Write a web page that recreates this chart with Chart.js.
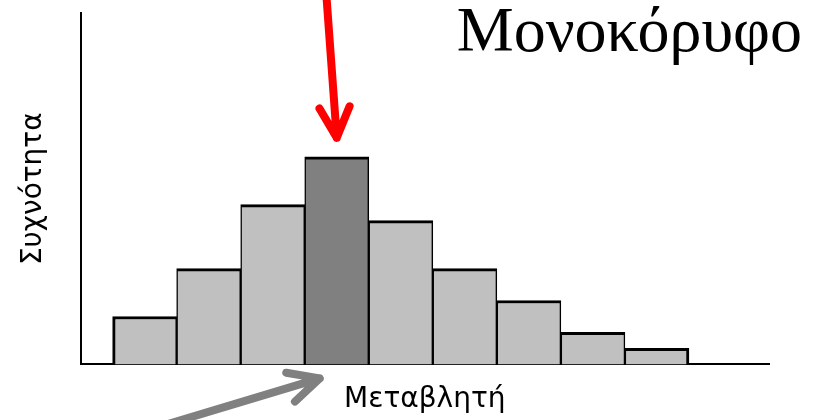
<!DOCTYPE html>
<html>
<head>
<meta charset="utf-8">
<script src="https://cdn.jsdelivr.net/npm/chart.js@4"></script>
<style>
    html, body { margin: 0; padding: 0; background: #fff; }
</style>
</head>
<body>
<canvas id="myChart" width="813" height="420"></canvas>
<script>
// δεδομένα ιστογράμματος
const bins = [1, 2, 3, 4, 5, 6, 7, 8, 9];
const freq = [3, 6, 10, 13, 9, 6, 4, 2, 1];
const peakIndex = 3; // η κορυφή (σκούρα στήλη)
const titleText = 'Μονοκόρυφο';
const xLabel = 'Μεταβλητή';
const yLabel = 'Συχνότητα';

const barColors = freq.map((v, i) => i === peakIndex ? '#808080' : '#c0c0c0');

function drawArrow(ctx, x0, y0, x1, y1, color) {
    const ang = Math.atan2(y0 - y1, x0 - x1);
    const len = 34, spread = 0.46;
    ctx.save();
    ctx.strokeStyle = color;
    ctx.lineWidth = 8;
    ctx.lineCap = 'round';
    ctx.lineJoin = 'round';
    ctx.beginPath();
    ctx.moveTo(x0, y0);
    ctx.lineTo(x1, y1);
    ctx.moveTo(x1 + len * Math.cos(ang - spread), y1 + len * Math.sin(ang - spread));
    ctx.lineTo(x1, y1);
    ctx.lineTo(x1 + len * Math.cos(ang + spread), y1 + len * Math.sin(ang + spread));
    ctx.stroke();
    ctx.restore();
}

// βέλη και τίτλος
const annotations = {
    id: 'annotations',
    afterDatasetsDraw(chart) {
        const ctx = chart.ctx;
        const bar = chart.getDatasetMeta(0).data[peakIndex];
        const base = chart.scales.x.top;

        drawArrow(ctx, bar.x - 11, bar.y - 170, bar.x, bar.y - 19, '#ff0000');
        drawArrow(ctx, bar.x - 170, base + 60, bar.x - 17, base + 14, '#808080');

        ctx.save();
        ctx.fillStyle = '#000';
        ctx.font = '64px "Liberation Serif", "Times New Roman", serif';
        ctx.textAlign = 'right';
        ctx.textBaseline = 'alphabetic';
        ctx.fillText(titleText, 802, 51);
        ctx.restore();
    }
};

const ctx = document.getElementById('myChart').getContext('2d');
const myChart = new Chart(ctx, {
    type: 'bar',
    data: {
        datasets: [{
            data: bins.map((b, i) => ({ x: b, y: freq[i] })),
            backgroundColor: barColors,
            borderColor: '#000',
            // γειτονικές στήλες μοιράζονται το περίγραμμα
            borderWidth: (c) => ({
                top: 3,
                bottom: 0,
                left: c.dataIndex === 0 ? 3 : 1.5,
                right: c.dataIndex === freq.length - 1 ? 3 : 1.5
            }),
            borderSkipped: false,
            barPercentage: 1,
            categoryPercentage: 1
        }]
    },
    options: {
        responsive: false,
        animation: false,
        layout: {
            padding: { left: 0, right: 44, top: 13, bottom: 3 }
        },
        plugins: {
            legend: { display: false },
            tooltip: { enabled: false }
        },
        scales: {
            x: {
                type: 'linear',
                offset: false,
                min: 0,
                max: 10.75,
                grid: { display: false, drawTicks: false, offset: false },
                ticks: { display: false },
                border: { display: true, color: '#000', width: 2 },
                title: {
                    display: true,
                    text: xLabel,
                    color: '#000',
                    font: { family: '"DejaVu Sans", Verdana, sans-serif', size: 28 },
                    padding: { top: 19, bottom: 0 }
                }
            },
            y: {
                min: 0,
                max: 22,
                grid: { display: false, drawTicks: false },
                ticks: { display: false },
                border: { display: true, color: '#000', width: 2 },
                title: {
                    display: true,
                    text: yLabel,
                    color: '#000',
                    font: { family: '"DejaVu Sans", Verdana, sans-serif', size: 28 },
                    padding: { top: 17, bottom: 30 }
                }
            }
        }
    },
    plugins: [annotations]
});
</script>
</body>
</html>
